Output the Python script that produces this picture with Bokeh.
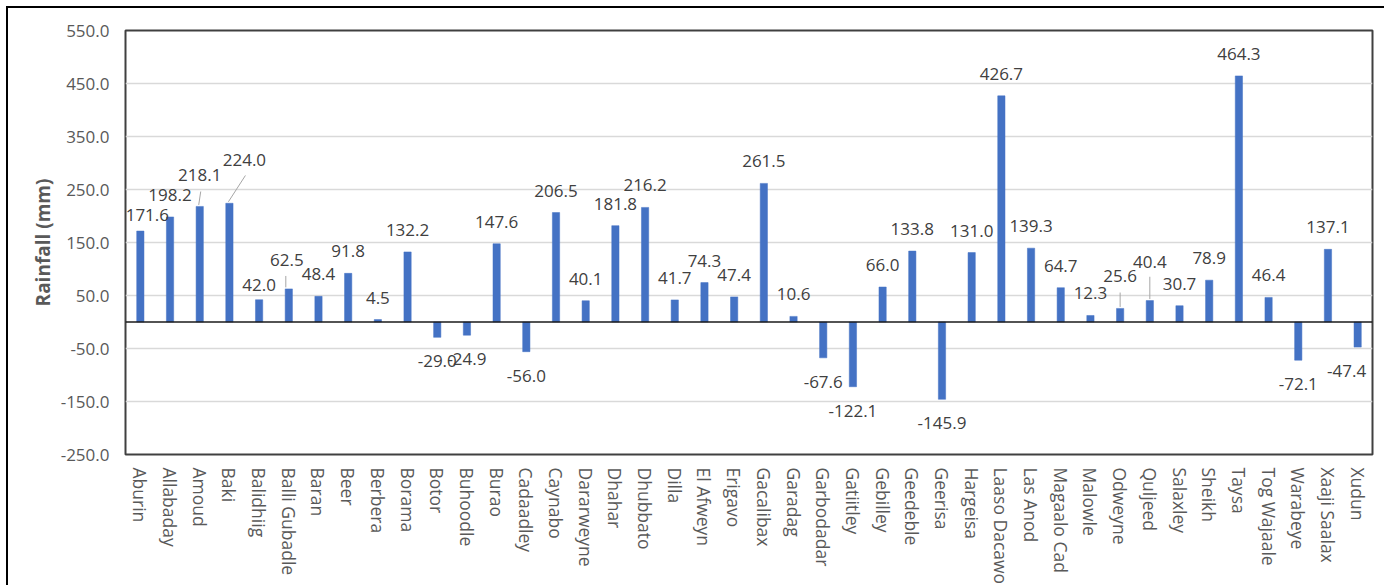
from bokeh.plotting import figure
from bokeh.models import (ColumnDataSource, FactorRange, Range1d, FixedTicker,
                          NumeralTickFormatter, Span, LabelSet)
from bokeh.core.properties import value
from bokeh.embed import file_html
from bokeh.resources import INLINE

# ---- data ---------------------------------------------------------------
stations = [
    "Aburin", "Allabaday", "Amoud", "Baki", "Balidhiig", "Balli Gubadle",
    "Baran", "Beer", "Berbera", "Borama", "Botor", "Buhoodle", "Burao",
    "Cadaadley", "Caynabo", "Dararweyne", "Dhahar", "Dhubbato", "Dilla",
    "El Afweyn", "Erigavo", "Gacalibax", "Garadag", "Garbodadar", "Gatiitley",
    "Gebilley", "Geedeble", "Geerisa", "Hargeisa", "Laaso Dacawo", "Las Anod",
    "Magaalo Cad", "Malowle", "Odweyne", "Quljeed", "Salaxley", "Sheikh",
    "Taysa", "Tog Wajaale", "Warabeye", "Xaaji Saalax", "Xudun",
]
rainfall = [
    171.6, 198.2, 218.1, 224.0, 42.0, 62.5,
    48.4, 91.8, 4.5, 132.2, -29.0, -24.9, 147.6,
    -56.0, 206.5, 40.1, 181.8, 216.2, 41.7,
    74.3, 47.4, 261.5, 10.6, -67.6, -122.1,
    66.0, 133.8, -145.9, 131.0, 426.7, 139.3,
    64.7, 12.3, 25.6, 40.4, 30.7, 78.9,
    464.3, 46.4, -72.1, 137.1, -47.4,
]
y_ticks = [-250, -150, -50, 50, 150, 250, 350, 450, 550]
Y_MIN, Y_MAX = -250, 550

# ---- layout / style -----------------------------------------------------
BAR_COLOR = "#4472C4"
LABEL_COLOR = "#404040"
AXIS_TEXT = "#595959"
FONT = "Open Sans"

OFFSET = 8                     # page offset of the figure canvas
W, H = 1386 - OFFSET, 587 - OFFSET
LEFT, RIGHT, TOP, BOTTOM = 117, 14, 22, 130
FRAME_W = W - LEFT - RIGHT
FRAME_H = H - TOP - BOTTOM
PX_PER_UNIT = FRAME_H / (Y_MAX - Y_MIN)
PX_PER_CAT = FRAME_W / len(stations)

# hand-placed data labels: (dx, dy) in pixels
label_nudges = {
    "Aburin": (7, -6), "Amoud": (0, 9), "Baki": (15, 21), "Balidhiig": (0, -7),
    "Balli Gubadle": (-2, 7), "Odweyne": (0, 10), "Quljeed": (0, 17),
    "Xudun": (-11, 0),
}
# leader lines for moved labels: (dx at bar, dx at label, rise in px)
leaders = {
    "Amoud": (-1, 1, 15), "Baki": (-1, 16, 28), "Balli Gubadle": (-3, -3, 13),
    "Odweyne": (0, 0, 16), "Quljeed": (0, 0, 24),
}

label_text, x_off, y_off = [], [], []
for name, v in zip(stations, rainfall):
    dx, dy = label_nudges.get(name, (0, 0))
    label_text.append(f"{v:.1f}")
    x_off.append(dx)
    y_off.append((16 if v >= 0 else -30) + dy)

src = ColumnDataSource(dict(station=stations, rain=rainfall, label=label_text,
                            xo=x_off, yo=y_off))

lx0, lx1, ly0, ly1 = [], [], [], []
for name, (dxb, dxt, rise) in leaders.items():
    i = stations.index(name)
    v = rainfall[i]
    lx0.append(i + 0.5 + dxb / PX_PER_CAT)
    lx1.append(i + 0.5 + dxt / PX_PER_CAT)
    ly0.append(v + 1.5 / PX_PER_UNIT)
    ly1.append(v + rise / PX_PER_UNIT)
lead_src = ColumnDataSource(dict(x0=lx0, x1=lx1, y0=ly0, y1=ly1))

p = figure(
    x_range=FactorRange(*stations), y_range=Range1d(Y_MIN, Y_MAX),
    width=W, height=H, output_backend="svg", toolbar_location=None,
    min_border_left=LEFT, min_border_right=RIGHT,
    min_border_top=TOP, min_border_bottom=BOTTOM,
    margin=(OFFSET - 2, 0, 0, OFFSET - 2),
    styles={"border-top": "2px solid #000000", "border-left": "2px solid #000000"},
)
p.background_fill_color = "white"
p.border_fill_color = "white"
p.outline_line_color = "#404040"
p.outline_line_width = 2

# grid
p.xgrid.grid_line_color = None
p.ygrid.ticker = FixedTicker(ticks=y_ticks)
p.ygrid.grid_line_color = "#D9D9D9"
p.ygrid.grid_line_width = 1.3

# y axis
ya = p.yaxis[0]
ya.ticker = FixedTicker(ticks=y_ticks)
ya.formatter = NumeralTickFormatter(format="0.0")
ya.axis_line_color = None
ya.major_tick_line_color = None
ya.minor_tick_line_color = None
ya.major_label_standoff = 10
ya.major_label_text_font = FONT
ya.major_label_text_font_size = "17px"
ya.major_label_text_color = AXIS_TEXT
ya.axis_label = "Rainfall (mm)"
ya.axis_label_text_font = FONT
ya.axis_label_text_font_size = "19px"
ya.axis_label_text_font_style = "bold"
ya.axis_label_text_color = AXIS_TEXT
ya.axis_label_standoff = 2

# x axis
xa = p.xaxis[0]
xa.axis_line_color = None
xa.major_tick_line_color = None
xa.minor_tick_line_color = None
xa.major_label_orientation = "vertical"
xa.major_label_standoff = 7
xa.major_label_text_font = FONT
xa.major_label_text_font_size = "17.5px"
xa.major_label_text_color = AXIS_TEXT

# bars
p.vbar(x="station", top="rain", width=0.245, source=src,
       fill_color=BAR_COLOR, line_color=BAR_COLOR, line_width=0.5)

# zero line
p.add_layout(Span(location=0, dimension="width", line_color="#1A1A1A",
                  line_width=1.6))

# leader lines
p.segment(x0="x0", y0="y0", x1="x1", y1="y1", source=lead_src,
          line_color="#A6A6A6", line_width=1)

# value labels
p.add_layout(LabelSet(x="station", y="rain", text="label", source=src,
                      x_offset="xo", y_offset="yo",
                      text_align="center", text_baseline="alphabetic",
                      text_font=value(FONT), text_font_size="17px",
                      text_color=LABEL_COLOR))

open("out.html", "w").write(file_html(p, INLINE))
